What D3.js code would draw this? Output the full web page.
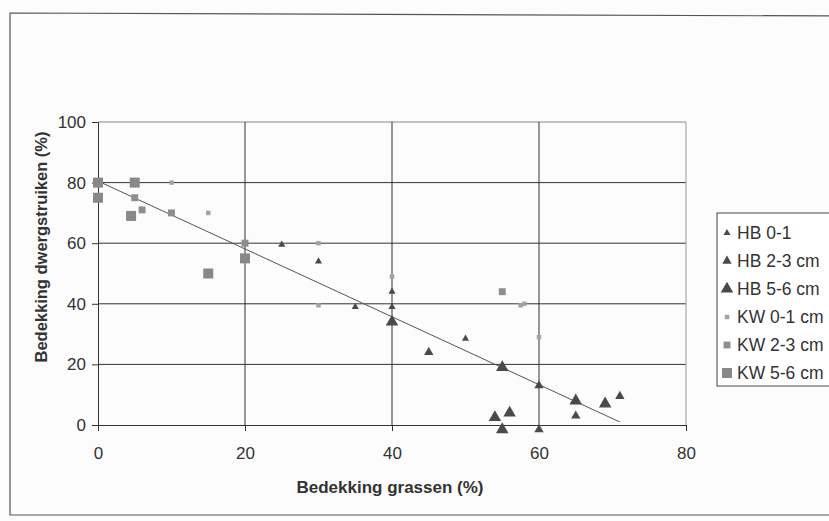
<!DOCTYPE html>
<html lang="nl">
<head>
    <meta charset="utf-8">
    <title>Bedekking dwergstruiken vs grassen</title>
    <script src="https://d3js.org/d3.v7.min.js"></script>
    <style>
        body { margin: 0; background: #fcfcfc; }
        svg { display: block; font-family: "Liberation Sans", Arial, sans-serif; }
    </style>
</head>
<body>
<svg width="829" height="521"></svg>
<script>
    // meetpunten [bedekking grassen, bedekking dwergstruiken]
    var hb01 = [[25,59.5],[30,54],[35,39],[40,44],[40,39],[50,28.5]];
    var hb23 = [[45,24],[60,13],[65,3],[71,9.5],[60,-1.5]];
    var hb56 = [[40,34],[55,19],[65,8],[69,7],[54,2.5],[56,4],[55,-1.5]];
    var kw01 = [[10,80],[15,70],[30,60],[30,39.5],[40,49],[57.5,39.5],[58,40],[60,29]];
    var kw23 = [[5,75],[6,71],[10,70],[20,60],[55,44]];
    var kw56 = [[0,80],[0,75],[5,80],[4.5,69],[20,55],[15,50]];

    var seriesNames = ["HB 0-1","HB 2-3 cm","HB 5-6 cm","KW 0-1 cm","KW 2-3 cm","KW 5-6 cm"];
    var trendX = [0, 71];
    var trendY = [80.5, 1];
    var xTicks = [0,20,40,60,80];
    var yTicks = [0,20,40,60,80,100];

    var series = [
        {name:seriesNames[0], data:hb01, shape:d3.symbolTriangle, size:22, fill:"#4a4a4a"},
        {name:seriesNames[1], data:hb23, shape:d3.symbolTriangle, size:38, fill:"#4a4a4a"},
        {name:seriesNames[2], data:hb56, shape:d3.symbolTriangle, size:68, fill:"#4a4a4a"},
        {name:seriesNames[3], data:kw01, shape:d3.symbolSquare, size:20, fill:"#a3a3a3"},
        {name:seriesNames[4], data:kw23, shape:d3.symbolSquare, size:48, fill:"#8e8e8e"},
        {name:seriesNames[5], data:kw56, shape:d3.symbolSquare, size:100, fill:"#888888"}
    ];

    var svg = d3.select("svg");

    // kader van de figuur
    svg.append("path")
        .attr("d","M840,16 L10,13 L10,515 L840,515")
        .attr("fill","none").attr("stroke","#555").attr("stroke-width",1.2);

    var x = d3.scaleLinear().domain([0,80]).range([98,686]);
    var y = d3.scaleLinear().domain([0,100]).range([425,122]);

    // rasterlijnen
    svg.append("g").selectAll("line")
        .data(yTicks.slice(1))
        .enter().append("line")
        .attr("x1",x(0)).attr("x2",x(80))
        .attr("y1",function(d){ return y(d); })
        .attr("y2",function(d){ return y(d); })
        .attr("stroke",function(d){ return d==100 ? "#888" : "#333"; })
        .attr("stroke-width",1);

    svg.append("g").selectAll("line")
        .data(xTicks.slice(1))
        .enter().append("line")
        .attr("y1",y(0)).attr("y2",y(100))
        .attr("x1",function(d){ return x(d); })
        .attr("x2",function(d){ return x(d); })
        .attr("stroke",function(d){ return d==80 ? "#999" : "#333"; })
        .attr("stroke-width",1);

    // assen
    var xAxis = svg.append("g")
        .attr("transform","translate(0,"+y(0)+")")
        .call(d3.axisBottom(x).tickValues(xTicks).tickSize(6).tickPadding(16));
    var yAxis = svg.append("g")
        .attr("transform","translate("+x(0)+",0)")
        .call(d3.axisLeft(y).tickValues(yTicks).tickSize(6).tickPadding(6));
    [xAxis, yAxis].forEach(function(a){
        a.select(".domain").attr("stroke","#333");
        a.selectAll(".tick line").attr("stroke","#333");
        a.selectAll("text").attr("font-size",17).attr("fill","#333")
            .attr("font-family","Liberation Sans, Arial, sans-serif");
    });

    // trendlijn
    svg.append("line")
        .attr("x1",x(trendX[0])).attr("y1",y(trendY[0]))
        .attr("x2",x(trendX[1])).attr("y2",y(trendY[1]))
        .attr("stroke","#555").attr("stroke-width",1);

    // punten
    series.forEach(function(s){
        svg.append("g").selectAll("path")
            .data(s.data)
            .enter().append("path")
            .attr("d",d3.symbol().type(s.shape).size(s.size))
            .attr("transform",function(d){ return "translate("+x(d[0])+","+y(d[1])+")"; })
            .attr("fill",s.fill);
    });

    // astitels
    svg.append("text")
        .attr("x",390).attr("y",493)
        .attr("text-anchor","middle")
        .attr("font-size",17).attr("font-weight","bold").attr("fill","#333")
        .text("Bedekking grassen (%)");
    svg.append("text")
        .attr("transform","translate(47,247) rotate(-90)")
        .attr("text-anchor","middle")
        .attr("font-size",16.5).attr("font-weight","bold").attr("fill","#333")
        .text("Bedekking dwergstruiken (%)");

    // legenda
    var legend = svg.append("g").attr("transform","translate(717,213)");
    legend.append("rect")
        .attr("x",0).attr("y",0).attr("width",130).attr("height",173)
        .attr("fill","#fff").attr("stroke","#444").attr("stroke-width",1);
    var item = legend.selectAll("g.item")
        .data(series)
        .enter().append("g")
        .attr("class","item")
        .attr("transform",function(d,i){ return "translate(0,"+(20+i*28)+")"; });
    item.append("path")
        .attr("d",function(d){ return d3.symbol().type(d.shape).size(d.size)(); })
        .attr("transform","translate(10,0)")
        .attr("fill",function(d){ return d.fill; });
    item.append("text")
        .attr("x",20).attr("dy","0.35em")
        .attr("font-size",17.5).attr("fill","#333")
        .text(function(d){ return d.name; });
</script>
</body>
</html>
